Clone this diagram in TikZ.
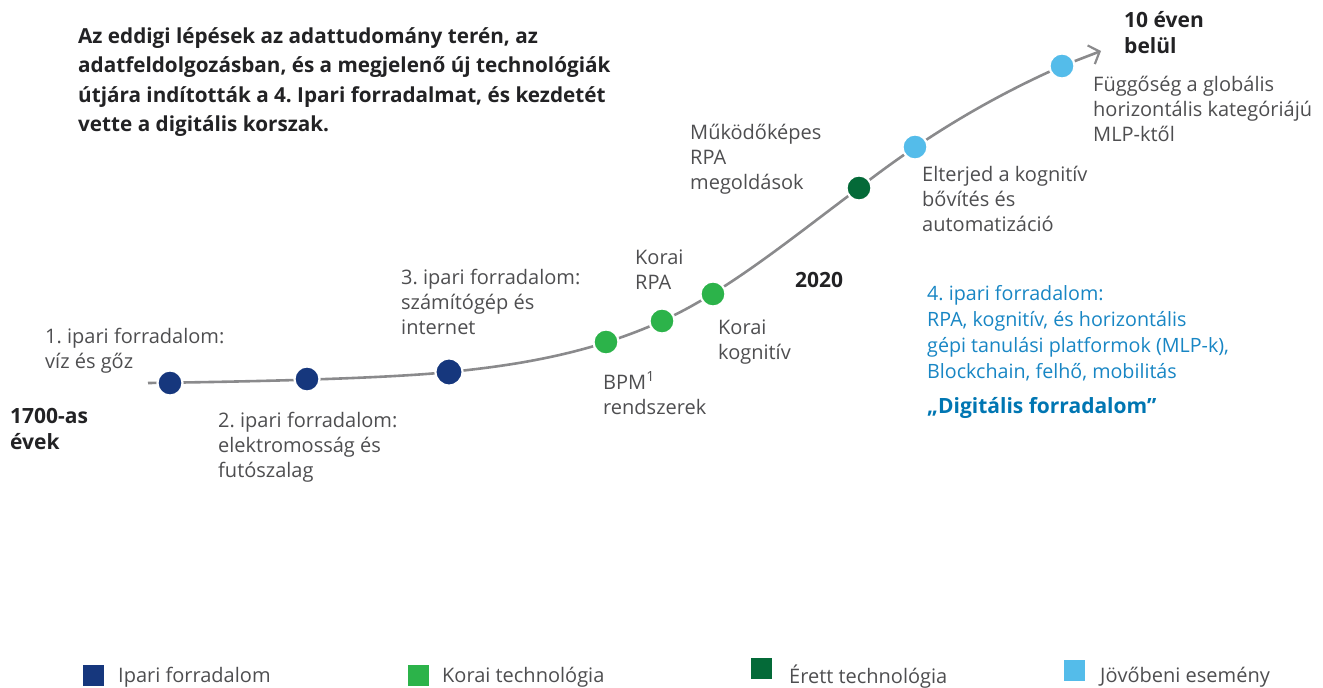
\documentclass[tikz,border=0pt]{standalone}
\usepackage{fontspec}
\setmainfont{Open Sans}
\frenchspacing
\usetikzlibrary{arrows.meta}
\definecolor{ipnavy}{RGB}{22,55,125}
\definecolor{earlygreen}{RGB}{44,179,74}
\definecolor{maturegreen}{RGB}{4,106,56}
\definecolor{futureblue}{RGB}{84,188,234}
\definecolor{trendgray}{RGB}{138,138,140}
\definecolor{labelgray}{RGB}{78,78,80}
\definecolor{darktext}{RGB}{34,34,36}
\definecolor{revblue}{RGB}{24,134,196}
\definecolor{revbold}{RGB}{0,118,178}

\begin{document}
\begin{tikzpicture}[x=1pt,y=-1pt,
    % base west sits on the last line of a node
    txt/.style={anchor=base west,inner sep=0pt,align=left,text=labelgray,
      font=\fontsize{20}{25}\selectfont},
    yr/.style={anchor=base west,inner sep=0pt,align=left,text=darktext,
      font=\fontsize{21}{26}\selectfont\bfseries},
    dot/.style={circle,draw=white,line width=2.2pt,inner sep=0pt,minimum size=25pt},
    trend/.style={draw=trendgray,line width=2.6pt,
      -{Straight Barb[length=9pt,width=20pt,line width=2.2pt]}},
    key/.style={minimum size=21pt,inner sep=0pt}
  ]
    \useasboundingbox (0,0) rectangle (1323,688);

    % headline
    \node[anchor=base west,inner sep=0pt,align=left,text=darktext,
      font=\fontsize{20.7}{29.5}\selectfont\bfseries] (intro) at (78,131.5)
      {Az eddigi lépések az adattudomány terén, az\\
       adatfeldolgozásban, és a megjelenő új technológiák\\
       útjára indították a 4. Ipari forradalmat, és kezdetét\\
       vette a digitális korszak.};

    % points on the curve
    \coordinate (start) at (148,383);
    \coordinate (p1) at (170,383);
    \coordinate (p2) at (307,379);
    \coordinate (p3) at (449,372);
    \coordinate (p4) at (606,342);
    \coordinate (p5) at (662,321);
    \coordinate (p6) at (713,294);
    \coordinate (p7) at (859,188);
    \coordinate (p8) at (915,147);
    \coordinate (p9) at (1062,66);
    \coordinate (tip) at (1101,51);

    \draw[trend] (start) .. controls (300,381) and (400,377) .. (p3)
      .. controls (520,365) and (591,353) .. (p5)
      .. controls (728,291) and (793,237) .. (p7)
      .. controls (927,135) and (994,96) .. (p9) -- (tip);

    \node[dot,fill=ipnavy] (ind1) at (p1) {};
    \node[dot,fill=ipnavy] (ind2) at (p2) {};
    \node[dot,fill=ipnavy,minimum size=27pt] (ind3) at (p3) {};
    \node[dot,fill=earlygreen] (bpm) at (p4) {};
    \node[dot,fill=earlygreen] (erpa) at (p5) {};
    \node[dot,fill=earlygreen] (ecog) at (p6) {};
    \node[dot,fill=maturegreen] (mrpa) at (p7) {};
    \node[dot,fill=futureblue] (cogn) at (p8) {};
    \node[dot,fill=futureblue] (mlp) at (p9) {};

    % labels along the curve
    \node[yr] (y1700) at (10,449) {1700-as\\évek};
    \node[txt] (l1) at (45,368) {1. ipari forradalom:\\víz és gőz};
    \node[txt] (l2) at (218,477) {2. ipari forradalom:\\elektromosság és\\futószalag};
    \node[txt] (l3) at (401,334) {3. ipari forradalom:\\számítógép és\\internet};
    \node[txt] (lbpm) at (603,414) {BPM\textsuperscript{1}\\rendszerek};
    \node[txt] (lerpa) at (635,289) {Korai\\RPA};
    \node[txt] (lecog) at (718,359) {Korai\\kognitív};
    \node[txt] (lmrpa) at (690,189) {Működőképes\\RPA\\megoldások};
    \node[yr] (y2020) at (795,287) {2020};
    \node[txt] (lcogn) at (922,231) {Elterjed a kognitív\\bővítés és\\automatizáció};
    \node[yr] (y10) at (1124,53) {10 éven\\belül};
    \node[txt] (lmlp) at (1093,141) {Függőség a globális\\horizontális kategóriájú\\MLP-ktől};

    \node[txt,text=revblue,font=\fontsize{19.7}{26}\selectfont] (rev4) at (927,378)
      {4. ipari forradalom:\\RPA, kognitív, és horizontális\\gépi tanulási platformok (MLP-k),\\Blockchain, felhő, mobilitás};
    \node[anchor=base west,inner sep=0pt,text=revbold,
      font=\fontsize{21}{26}\selectfont\bfseries] (revname) at (927,413)
      {„Digitális forradalom”};

    % legend
    \node[key,fill=ipnavy,anchor=north west] (k1) at (83,665) {};
    \node[txt,anchor=west] (k1t) at (118,677) {Ipari forradalom};
    \node[key,fill=earlygreen,anchor=north west] (k2) at (408,665) {};
    \node[txt,anchor=west] (k2t) at (442,677) {Korai technológia};
    \node[key,fill=maturegreen,anchor=north west] (k3) at (751,658) {};
    \node[txt,anchor=west] (k3t) at (789,677) {Érett technológia};
    \node[key,fill=futureblue,anchor=north west] (k4) at (1064,660) {};
    \node[txt,anchor=west] (k4t) at (1100,677) {Jövőbeni esemény};
\end{tikzpicture}
\end{document}
